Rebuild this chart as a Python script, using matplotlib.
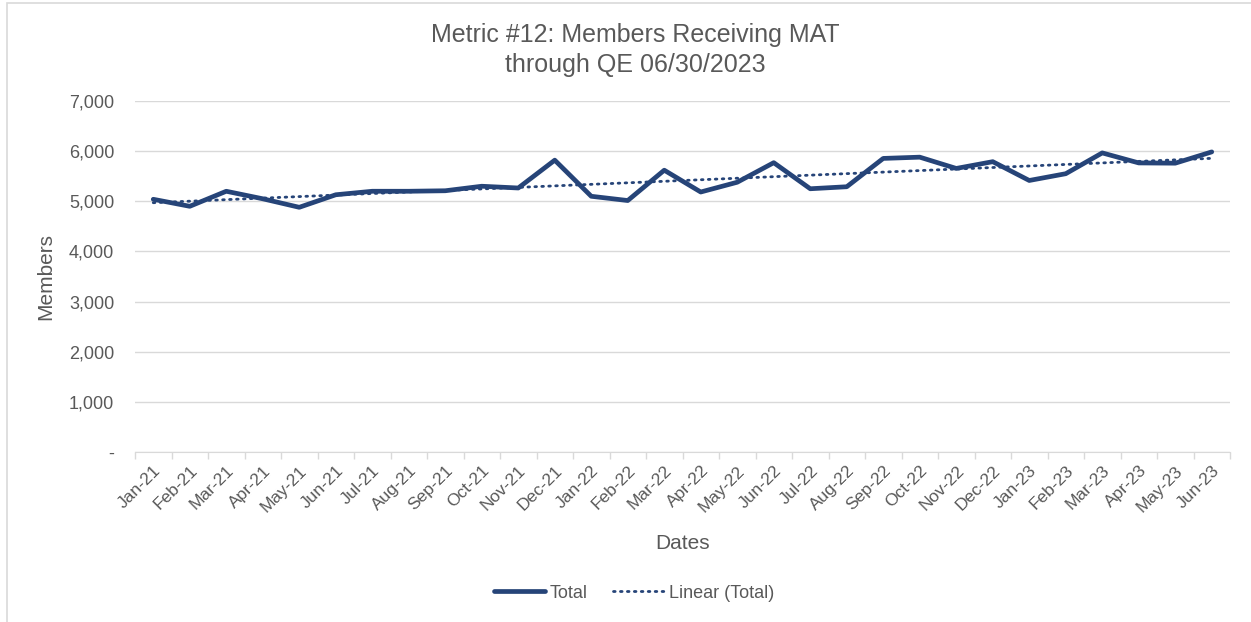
import matplotlib.pyplot as plt
import matplotlib.patches as mpatches
from matplotlib.ticker import FuncFormatter
import numpy as np

# Monthly members receiving MAT
months = ["Jan-21", "Feb-21", "Mar-21", "Apr-21", "May-21", "Jun-21",
          "Jul-21", "Aug-21", "Sep-21", "Oct-21", "Nov-21", "Dec-21",
          "Jan-22", "Feb-22", "Mar-22", "Apr-22", "May-22", "Jun-22",
          "Jul-22", "Aug-22", "Sep-22", "Oct-22", "Nov-22", "Dec-22",
          "Jan-23", "Feb-23", "Mar-23", "Apr-23", "May-23", "Jun-23"]
total = [5040, 4900, 5200, 5050, 4880, 5130,
         5200, 5200, 5210, 5300, 5265, 5820,
         5100, 5015, 5620, 5185, 5380, 5770,
         5250, 5290, 5855, 5880, 5655, 5790,
         5415, 5550, 5965, 5765, 5760, 5985]

plt.rcParams['font.family'] = ['Liberation Sans', 'DejaVu Sans']
text_color = '#595959'
line_color = '#264478'

fig = plt.figure(figsize=(12.51, 6.22), dpi=100)
ax = fig.add_axes([135 / 1251, 1 - 452 / 622, (1230 - 135) / 1251, (452 - 101) / 622])

x = np.arange(len(months))
ax.plot(x, total, color=line_color, linewidth=3.4, solid_joinstyle='round',
        solid_capstyle='round', label='Total', zorder=3)

# least-squares trend line
slope, intercept = np.polyfit(x, total, 1)
ax.plot(x, slope * x + intercept, color=line_color, linewidth=2,
        linestyle=(0, (0.6, 1.9)), dash_capstyle='round', label='Linear (Total)', zorder=4)

ax.set_xlim(-0.5, len(months) - 0.5)
ax.set_ylim(0, 7000)
ax.set_yticks(range(0, 7001, 1000))
ax.yaxis.set_major_formatter(FuncFormatter(lambda v, p: '-' if v == 0 else f'{int(v):,}'))
ax.grid(axis='y', color='#d9d9d9', linewidth=1)
ax.set_axisbelow(True)

ax.set_xticks(x)
ax.set_xticklabels(months, rotation=45, ha='right', rotation_mode='anchor')
ax.set_xticks(np.arange(-0.5, len(months)), minor=True)
ax.tick_params(axis='x', which='major', length=0, pad=8, labelsize=12.5, labelcolor=text_color)
ax.tick_params(axis='x', which='minor', length=5, color='#d9d9d9', width=1)
ax.tick_params(axis='y', length=0, pad=15, labelsize=13, labelcolor=text_color)

for side in ['top', 'right', 'left']:
    ax.spines[side].set_visible(False)
ax.spines['bottom'].set_color('#d9d9d9')

ax.set_xlabel('Dates', fontsize=15, color=text_color, labelpad=14)
ax.set_ylabel('Members', fontsize=15, color=text_color, labelpad=10)
fig.text(0.508, 1 - 50 / 622, 'Metric #12: Members Receiving MAT\nthrough QE 06/30/2023',
         ha='center', va='center', fontsize=18, color=text_color, linespacing=1.35)

fig.legend(loc='center', bbox_to_anchor=(0.507, 1 - 593 / 622), ncol=2, frameon=False,
           fontsize=13, labelcolor=text_color, handlelength=2.8, handletextpad=0.3,
           columnspacing=1.4)

# chart area border
fig.patches.append(mpatches.Rectangle((7 / 1251, -0.1), 1.2, 1.1 - 3 / 622,
                                      transform=fig.transFigure, fill=False,
                                      edgecolor='#d9d9d9', linewidth=1.2))

fig.savefig('out.png', dpi=100)
